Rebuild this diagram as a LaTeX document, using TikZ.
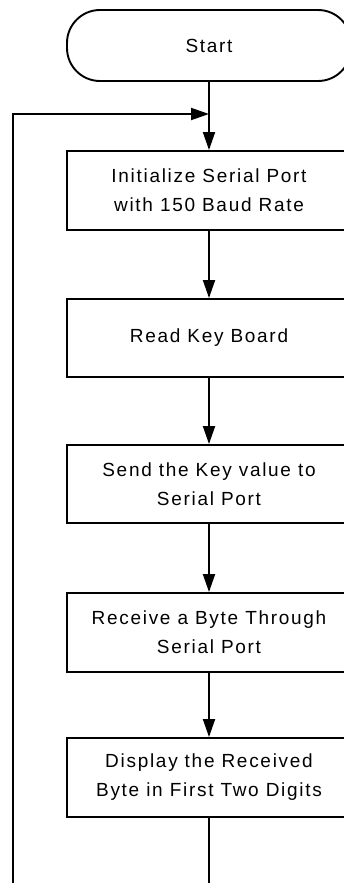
\documentclass[tikz,border=0pt]{standalone}
\usepackage{fontspec}
\setmainfont{Liberation Sans}[LetterSpace=9]
\usetikzlibrary{arrows.meta}
\begin{document}
\begin{tikzpicture}[x=1pt,y=1pt,
  line width=1.9pt,
  font=\fontsize{19}{29}\selectfont,
  box/.style={draw, minimum width=284pt, align=center, inner sep=0pt},
  term/.style={box, minimum height=71pt, rounded corners=33pt},
  arr/.style={-{Triangle[length=18pt,width=12pt]}},
]
\useasboundingbox (0,0) rectangle (344,-883);
\clip (0,0) rectangle (344,-883);
\node[term] (start) at (209,-45.5) {Start};
\node[box, minimum height=79pt] (b1) at (209,-190.5) {Initialize Serial Port\\with 150 Baud Rate};
\node[box, minimum height=78pt] (b2) at (209,-338) {Read Key Board};
\node[box, minimum height=78pt] (b3) at (209,-484) {Send the Key value to\\Serial Port};
\node[box, minimum height=79pt] (b4) at (209,-632.5) {Receive a Byte Through\\Serial Port};
\node[box, minimum height=79pt] (b5) at (209,-777.5) {Display the Received\\Byte in First Two Digits};
\coordinate (join) at (209,-114);
\coordinate (bot) at (209,-900);
\coordinate (botl) at (13,-900);
\coordinate (topl) at (13,-114);
\draw[arr] (start.south) -- (b1.north);
\draw[arr] (b1.south) -- (b2.north);
\draw[arr] (b2.south) -- (b3.north);
\draw[arr] (b3.south) -- (b4.north);
\draw[arr] (b4.south) -- (b5.north);
\draw[arr] (b5.south) -- (bot) -- (botl) -- (topl) -- (join);
\end{tikzpicture}
\end{document}
